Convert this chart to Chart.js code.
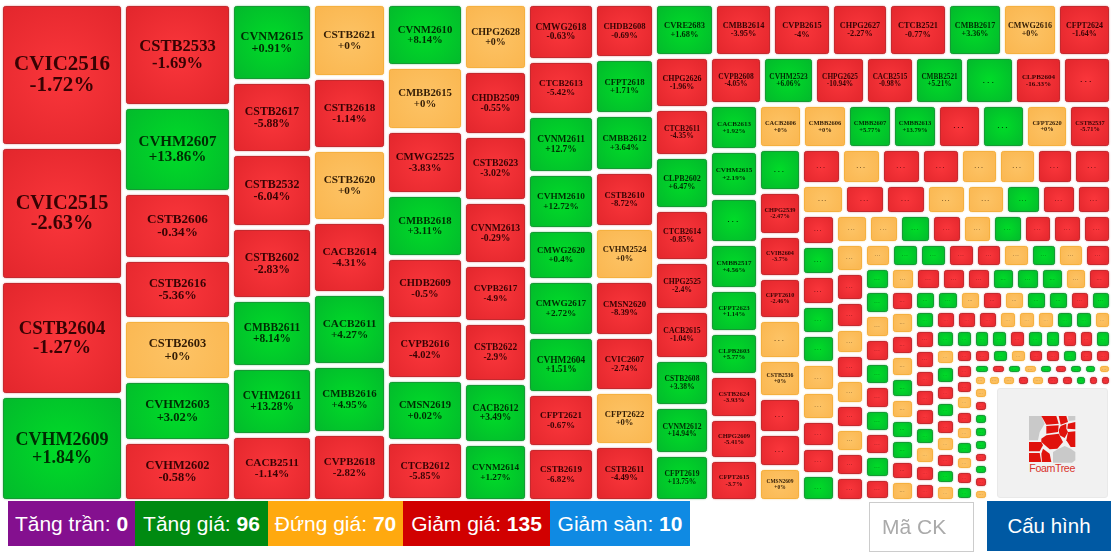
<!DOCTYPE html>
<html>
<head>
<meta charset="utf-8">
<title>Bản đồ chứng quyền</title>
<script src="https://cdn.jsdelivr.net/npm/chart.js@4/dist/chart.umd.js"></script>
<style>
    html, body { margin: 0; padding: 0; background: #fff; overflow: hidden; }
    #wrap { position: relative; width: 1116px; height: 554px; font-family: "Liberation Sans", Arial, sans-serif; }
    #map { position: absolute; left: 0; top: 0; }
    #logo { position: absolute; left: 997px; top: 388px; width: 111px; height: 110px; background: #f1f1f1; border-radius: 3px; border: 1px solid #e9e9e9; box-sizing: border-box; }
    #logo svg { position: absolute; left: 31px; top: 27px; }
    .stat { position: absolute; top: 501px; height: 45px; line-height: 45px; color: #fff; font-size: 21px; text-align: center; white-space: nowrap; }
    #search { position: absolute; left: 869px; top: 502px; width: 105px; height: 50px; box-sizing: border-box; border: 1px solid #ccc; color: #aaa; font-size: 21px; line-height: 48px; padding-left: 12px; }
    #config { position: absolute; left: 987px; top: 501px; width: 124px; height: 50px; line-height: 50px; background: #0059a3; color: #fff; font-size: 20.5px; text-align: center; }
</style>
</head>
<body>
<div id="wrap">
    <canvas id="map" width="1116" height="554"></canvas>
    <div id="logo">
        <svg width="47" height="58" viewBox="133 92 141 174">
            <g fill="#c9c9c9">
                <polygon points="133,92 170,92 180,115 165,140 160,165 133,165"/>
                <polygon points="250,92 272,92 272,105 252,107"/>
                <polygon points="205,200 222,190 240,182 258,190 272,200 272,225 262,232 205,232"/>
            </g>
            <g fill="#e0120c">
                <polygon points="170,92 215,92 222,115 185,118"/>
                <polygon points="222,92 245,92 250,110 228,118"/>
                <polygon points="185,122 222,120 220,140 185,145"/>
                <polygon points="250,115 272,110 272,132 248,130"/>
                <polygon points="228,122 245,115 245,130 250,140 240,158 225,150 222,135"/>
                <polygon points="250,140 272,138 272,185 258,185 245,165"/>
                <polygon points="170,160 185,150 222,145 235,170 218,190 195,192 170,170"/>
                <polygon points="133,170 170,170 175,180 165,198 133,198"/>
                <polygon points="133,203 165,203 170,230 133,230"/>
                <polygon points="175,190 195,205 200,230 172,230 170,205"/>
            </g>
            <text x="203" y="261" text-anchor="middle" font-family="Liberation Sans" font-size="32" fill="#d8332c" textLength="138">FoamTree</text>
        </svg>
    </div>
    <div class="stat" style="left:8px;width:127px;background:#84108f">Tăng trần: <b>0</b></div>
    <div class="stat" style="left:135px;width:133px;background:#008a11">Tăng giá: <b>96</b></div>
    <div class="stat" style="left:268px;width:135px;background:#ffa90f">Đứng giá: <b>70</b></div>
    <div class="stat" style="left:403px;width:147px;background:#d10000">Giảm giá: <b>135</b></div>
    <div class="stat" style="left:550px;width:140px;background:#0f8ae3">Giảm sàn: <b>10</b></div>
    <div id="search">Mã CK</div>
    <div id="config">Cấu hình</div>
</div>
<script>
// how many tiles sit in each strip, and whether the strip is a column or a row
const stripCounts = [4,7,7,7,8,8,9,9, 8,9,8,9,8,9, 8,8,10,9,10,9,10,9,10,9,10,9,10,9,9,9,9,10,9];
const stripKinds = ['c','c','c','c','c','c','c','c', 'r','c','r','c','r','c', 'r','r','c','r','c','r','c','r','c','r','r','c','c','r','r','c','r','r','c'];

const tileNames = [
    'CVIC2516','CVIC2515','CSTB2604','CVHM2609',
    'CSTB2533','CVHM2607','CSTB2606','CSTB2616','CSTB2603','CVHM2603','CVHM2602',
    'CVNM2615','CSTB2617','CSTB2532','CSTB2602','CMBB2611','CVHM2611','CACB2511',
    'CSTB2621','CSTB2618','CSTB2620','CACB2614','CACB2611','CMBB2616','CVPB2618',
    'CVNM2610','CMBB2615','CMWG2525','CMBB2618','CHDB2609','CVPB2616','CMSN2619','CTCB2612',
    'CHPG2628','CHDB2509','CSTB2623','CVNM2613','CVPB2617','CSTB2622','CACB2612','CVNM2614',
    'CMWG2618','CTCB2613','CVNM2611','CVHM2610','CMWG2620','CMWG2617','CVHM2604','CFPT2621','CSTB2619',
    'CHDB2608','CFPT2618','CMBB2612','CSTB2610','CVHM2524','CMSN2620','CVIC2607','CFPT2622','CSTB2611',
    'CVRE2683','CMBB2614','CVPB2615','CHPG2627','CTCB2521','CMBB2617','CMWG2616','CFPT2624',
    'CHPG2626','CTCB2611','CLPB2602','CTCB2614','CHPG2525','CACB2615','CSTB2608','CVNM2612','CFPT2619',
    'CVPB2608','CVHM2523','CHPG2625','CACB2515','CMBB2521','...','CLPB2604','...',
    'CACB2613','CVHM2615','...','CMBB2517','CFPT2623','CLPB2603','CSTB2624','CHPG2609','CFPT2615',
    'CACB2606','CMBB2606','CMBB2607','CMBB2613','...','...','CFPT2620','CSTB2537',
    '...','CHPG2539','CVIB2604','CFPT2610','...','CSTB2536','...','...','CMSN2609'
];

const tileChanges = [
    -1.72,-2.63,-1.27,1.84,
    -1.69,13.86,-0.34,-5.36,0,3.02,-0.58,
    0.91,-5.88,-6.04,-2.83,8.14,13.28,-1.14,
    0,-1.14,0,-4.31,4.27,4.95,-2.82,
    8.14,0,-3.83,3.11,-0.5,-4.02,0.02,-5.85,
    0,-0.55,-3.02,-0.29,-4.9,-2.9,3.49,1.27,
    -0.63,-5.42,12.7,12.72,0.4,2.72,1.51,-0.67,-6.82,
    -0.69,1.71,3.64,-8.72,0,-8.39,-2.74,0,-4.49,
    1.68,-3.95,-4,-2.27,-0.77,3.36,0,-1.64,
    -1.96,-4.35,6.47,-0.85,-2.4,-1.04,3.38,14.94,13.75,
    -4.05,6.06,-10.94,-0.98,5.21,1.5,-16.33,-1.5,
    1.92,2.19,1.5,4.56,1.14,5.77,-3.93,-5.41,-3.7,
    0,0,5.77,13.79,-1.5,1.5,0,-5.71,
    1.5,-2.47,-3.7,-2.46,0,0,-1.5,-1.5,0,
    // the small tiles below show no figure, only their colour can be read
    -1,0,-1,-1,0,0,-1,-1,
    0,-1,-1,0,0,1,-1,-1,
    -1,1,-1,1,1,0,0,-1,-1,1,
    0,0,1,-1,0,1,-1,-1,-1,
    0,-1,-1,0,-1,0,-1,0,-1,-1,
    0,1,1,-1,-1,0,1,0,-1,
    1,1,0,-1,1,-1,1,-1,1,-1,
    0,-1,-1,-1,1,1,1,0,-1,
    -1,0,-1,0,1,0,1,1,-1,0,
    1,1,0,-1,0,1,1,-1,1,
    1,-1,-1,-1,0,0,0,1,1,0,
    -1,-1,-1,-1,-1,1,0,-1,-1,
    1,0,1,-1,1,-1,0,-1,1,0,
    1,1,1,-1,1,1,-1,-1,1,
    -1,-1,1,0,-1,-1,1,-1,-1,
    -1,-1,0,-1,0,1,0,-1,1,
    1,-1,1,0,1,-1,1,1,0,
    0,0,0,-1,0,-1,-1,1,-1,-1,
    0,-1,1,1,1,-1,1,-1,0
];

const tileVolumes = [
    17589,16482,14145,13038,
    11124,9288,7236,6480,6588,6588,6480,
    6318,5832,5994,5832,5508,5508,5346,
    5476,5328,5328,5328,5328,5032,5032,
    4896,4896,4820,4820,4743,4590,4743,4590,
    4322,4257,4193,4128,3741,3870,3935,3677,
    3791,3658,3857,3724,3458,3658,3791,3591,3591,
    3328,3388,3509,3388,3207,3328,3388,3267,3328,
    3210,3103,3130,3076,3157,2943,2916,2889,
    2860,2668,2888,2888,2695,2668,2585,2668,2530,
    2544,2496,2424,2376,2400,2400,2304,2328,
    2279,2279,2254,2254,2107,2107,2107,2009,2034,
    1936,1980,1980,1980,1936,1936,1870,1892,
    1849,1892,1806,1806,1720,1634,1548,1462,1441,
    1440,1440,1440,1404,1368,1368,1332,1350,
    1290,1230,1215,1200,1170,1080,1050,1050,
    1070,1052,1018,1018,983,966,1001,932,932,914,
    944,929,944,900,900,900,870,870,856,
    812,827,770,741,713,713,698,684,670,698,
    635,658,658,658,635,646,646,635,623,
    598,637,611,624,611,611,611,585,611,572,
    575,598,575,575,552,564,552,541,541,
    527,551,515,539,515,515,490,515,490,502,
    441,472,451,451,451,451,451,431,420,
    410,400,410,400,380,371,371,371,361,351,
    410,390,390,390,390,390,390,369,379,
    370,340,370,340,350,330,340,330,320,320,
    333,324,333,315,342,305,324,296,305,
    270,270,278,263,255,248,263,240,248,
    288,279,270,270,270,270,279,270,270,
    196,184,184,178,178,167,173,161,161,
    174,168,174,174,174,174,168,156,144,144,
    195,195,188,195,195,188,180,188,188
];

const mapWidth = 1111;
const mapHeight = 498;

const tileColors = {
    down: { mid: '#fa363b', edge: '#e2262c', line: '#c42a2f', text: 'rgba(45,0,0,0.95)' },
    up: { mid: '#00dc28', edge: '#03b82c', line: '#169a34', text: 'rgba(0,35,0,0.95)' },
    flat: { mid: '#fdc365', edge: '#fab64f', line: '#f5b03f', text: 'rgba(40,20,0,0.95)' }
};

// cut the map strip by strip: a strip takes the share of the free space its volume asks for
function layoutTiles() {
    const tiles = [];
    let x0 = 0, y0 = 0, index = 0;
    stripCounts.forEach((count, s) => {
        let total = 0;
        for (let i = index; i < index + count; i++) total += tileVolumes[i];
        if (stripKinds[s] === 'c') {
            const width = total / (mapHeight - y0);
            let y = y0;
            for (let i = index; i < index + count; i++) {
                const h = tileVolumes[i] / total * (mapHeight - y0);
                tiles.push({ x0: x0, x1: x0 + width, y0: y, y1: y + h, name: tileNames[i] || '...', change: tileChanges[i] });
                y += h;
            }
            x0 += width;
        } else {
            const height = total / (mapWidth - x0);
            let x = x0;
            for (let i = index; i < index + count; i++) {
                const w = tileVolumes[i] / total * (mapWidth - x0);
                tiles.push({ x0: x, x1: x + w, y0: y0, y1: y0 + height, name: tileNames[i] || '...', change: tileChanges[i] });
                x += w;
            }
            y0 += height;
        }
        index += count;
    });
    return tiles;
}

class TileBox extends Chart.Element {
    static id = 'tileBox';
    static defaults = {};

    draw(ctx) {
        const { left, top, width, height, name, change } = this;
        const colors = change > 0 ? tileColors.up : change < 0 ? tileColors.down : tileColors.flat;
        const cx = left + width / 2, cy = top + height / 2;
        const glow = ctx.createRadialGradient(cx, cy, 0, cx, cy, Math.max(width, height) * 0.68);
        glow.addColorStop(0, colors.mid);
        glow.addColorStop(1, colors.edge);

        ctx.save();
        ctx.beginPath();
        ctx.roundRect(left + 0.5, top + 0.5, width - 1, height - 1, 2);
        ctx.fillStyle = glow;
        ctx.shadowColor = colors.line;
        ctx.shadowBlur = 2;
        ctx.fill();
        ctx.shadowBlur = 0;
        ctx.strokeStyle = colors.line;
        ctx.lineWidth = 1;
        ctx.stroke();

        const size = Math.max(0.165 * Math.sqrt(width * height), 2.5);
        ctx.fillStyle = colors.text;
        ctx.textAlign = 'center';
        ctx.textBaseline = 'middle';
        if (name === '...') {
            ctx.font = 'bold ' + size + 'px "Liberation Sans"';
            ctx.letterSpacing = (size * 0.35) + 'px';
            ctx.fillText(name, cx, cy);
        } else {
            const pct = (change >= 0 ? '+' : '') + change + '%';
            ctx.font = 'bold ' + size + 'px "Liberation Serif"';
            ctx.fillText(name, cx, cy - size * 0.48);
            ctx.fillText(pct, cx, cy + size * 0.52);
        }
        ctx.restore();
    }
}

class TileController extends Chart.DatasetController {
    static id = 'tiles';
    static defaults = { dataElementType: 'tileBox', datasetElementType: false };

    update(mode) {
        const meta = this._cachedMeta;
        this.updateElements(meta.data, 0, meta.data.length, mode);
    }

    updateElements(boxes, start, count) {
        const { xScale, yScale } = this._cachedMeta;
        const data = this.getDataset().data;
        for (let i = start; i < start + count; i++) {
            const t = data[i];
            const left = Math.round(xScale.getPixelForValue(t.x0 + 2.5));
            const right = Math.round(xScale.getPixelForValue(t.x1 - 2.5));
            const top = Math.round(yScale.getPixelForValue(t.y0 + 2.5));
            const bottom = Math.round(yScale.getPixelForValue(t.y1 - 2.5));
            Object.assign(boxes[i], {
                x: left, y: top, left: left, top: top,
                width: right - left, height: bottom - top,
                name: t.name, change: t.change
            });
        }
    }
}

Chart.register(TileController, TileBox);

new Chart(document.getElementById('map'), {
    type: 'tiles',
    data: {
        datasets: [{ label: 'Chứng quyền', data: layoutTiles(), parsing: false }]
    },
    options: {
        responsive: false,
        animation: false,
        events: [],
        layout: { padding: { left: 0.5, top: 3, right: 4.5, bottom: 53 } },
        plugins: { legend: { display: false }, tooltip: { enabled: false } },
        scales: {
            x: { type: 'linear', min: 0, max: mapWidth, display: false },
            y: { type: 'linear', min: 0, max: mapHeight, reverse: true, display: false }
        }
    }
});
</script>
</body>
</html>
